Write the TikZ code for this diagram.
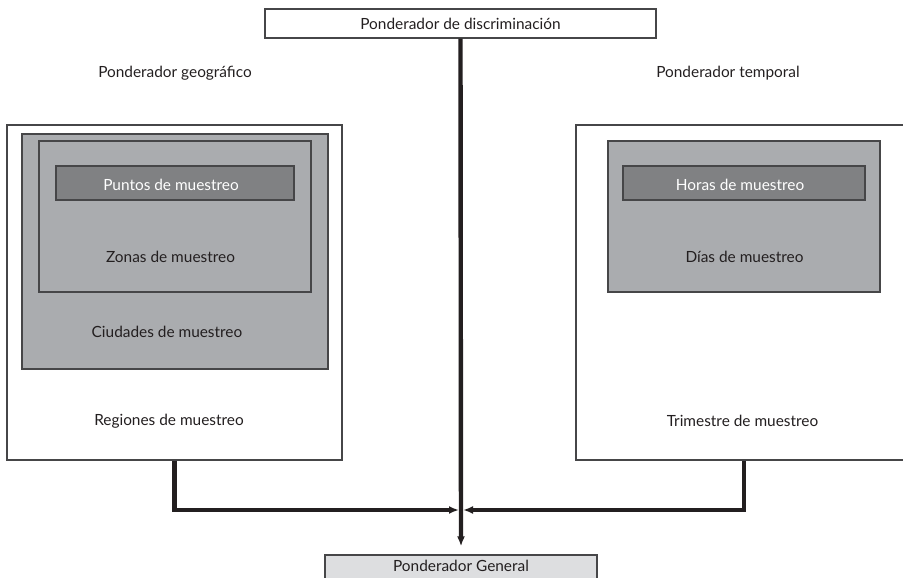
\documentclass[tikz,border=0pt]{standalone}
\usepackage{fontspec}
\setmainfont{Lato}
\usetikzlibrary{arrows.meta, positioning, calc}

\definecolor{inkgray}{RGB}{35,31,32}
\definecolor{edgegray}{RGB}{70,70,72}
\definecolor{midgray}{RGB}{170,172,175}
\definecolor{darkbox}{RGB}{128,129,131}
\definecolor{lightbox}{RGB}{221,222,224}

\begin{document}
\begin{tikzpicture}[
  x=1pt, y=-1pt,
  every node/.style = {font=\fontsize{15.4}{17}\selectfont, text=inkgray},
  plainbox/.style = {draw=edgegray, line width=1.3pt, fill=white, inner sep=0pt},
  greybox/.style  = {draw=edgegray, line width=1.3pt, fill=midgray, inner sep=0pt},
  darkbox/.style  = {draw=edgegray, line width=1.3pt, fill=darkbox, inner sep=0pt, text=white},
  genbox/.style   = {draw=edgegray, line width=1.3pt, fill=lightbox, inner sep=0pt},
  arrow/.style    = {line width=4.4pt, draw=inkgray, -{Latex[length=10pt, width=8pt]}}
]
  \useasboundingbox (0,0) rectangle (903,578);

  % Ponderador de discriminacion box
  \node[plainbox, minimum width=391, minimum height=29] (discrim) at (460.5,23.5)
    {Ponderador de discriminación};

  % headings
  \node (geotitle) at (175,73) {Ponderador geográfico};
  \node (temptitle) at (728,73) {Ponderador temporal};

  % geographic side
  \node[plainbox, minimum width=335, minimum height=335] (regiones) at (174.5,292.5) {};
  \node[greybox, minimum width=306, minimum height=235] (ciudades) at (175,251.5) {};
  \node[greybox, minimum width=272, minimum height=151] (zonas) at (175,216.5) {};
  \node[darkbox, minimum width=238, minimum height=34] (puntos) at (175,183) {};
  \node[text=white] (puntostxt) at (171,185) {Puntos de muestreo};
  \node (zonastxt) at (170.5,257) {Zonas de muestreo};
  \node (ciudadestxt) at (167,332) {Ciudades de muestreo};
  \node (regionestxt) at (169,421) {Regiones de muestreo};

  % temporal side
  \node[plainbox, minimum width=336, minimum height=335] (trimestre) at (744,292.5) {};
  \node[greybox, minimum width=272, minimum height=151] (dias) at (744,216.5) {};
  \node[darkbox, minimum width=242, minimum height=34] (horas) at (744,183) {};
  \node[text=white] (horastxt) at (740,185) {Horas de muestreo};
  \node (diastxt) at (744.5,257) {Días de muestreo};
  \node (trimestretxt) at (742.5,421) {Trimestre de muestreo};

  % Ponderador General box
  \node[genbox, minimum width=272, minimum height=28] (general) at (461,569) {};
  \node (generaltxt) at (461,566) {Ponderador General};

  % connectors
  \coordinate (meet) at (461,510);
  \draw[arrow] (discrim.south) -- ([yshift=8pt]general.north);
  \draw[arrow] (regiones.south) |- ([xshift=-2pt]meet);
  \draw[arrow] (trimestre.south) |- ([xshift=2pt]meet);

\end{tikzpicture}
\end{document}
